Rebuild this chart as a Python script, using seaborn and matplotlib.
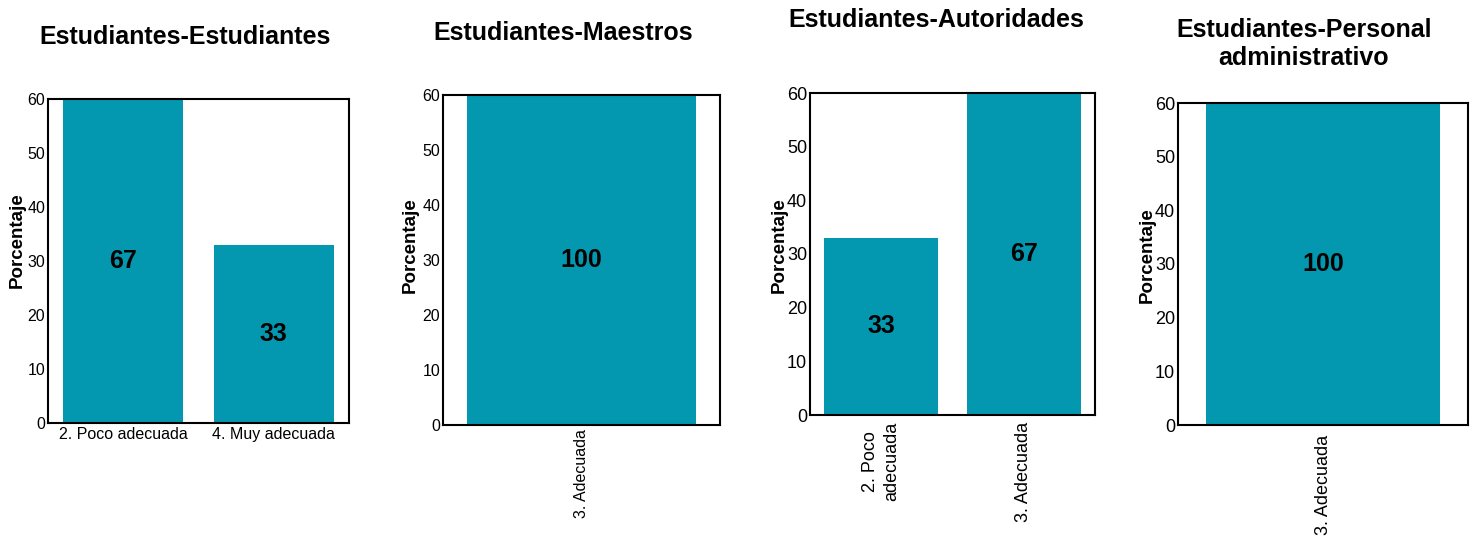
import matplotlib
matplotlib.use("Agg")
import matplotlib.pyplot as plt
import seaborn as sns
import pandas as pd

sns.set_theme(style="white")
plt.rcParams['font.family'] = ['Liberation Sans', 'DejaVu Sans']
plt.rcParams['text.color'] = 'black'
plt.rcParams['axes.labelcolor'] = 'black'

# ---- data ----
titles = ["Estudiantes-Estudiantes", "Estudiantes-Maestros",
          "Estudiantes-Autoridades", "Estudiantes-Personal\nadministrativo"]
cats_1 = ["2. Poco adecuada", "4. Muy adecuada"]
vals_1 = [67, 33]
cats_2 = ["3. Adecuada"]
vals_2 = [100]
cats_3 = ["2. Poco\nadecuada", "3. Adecuada"]
vals_3 = [33, 67]
cats_4 = ["3. Adecuada"]
vals_4 = [100]
y_ticks = [0, 10, 20, 30, 40, 50, 60]
y_label = "Porcentaje"

panels = [(cats_1, vals_1), (cats_2, vals_2), (cats_3, vals_3), (cats_4, vals_4)]

COLOR = "#0498B0"
W, H = 1478, 536
fig = plt.figure(figsize=(W / 100, H / 100), dpi=100)

# axes boxes in pixels: left, top, right, bottom
boxes = [(48, 99, 349, 423), (443, 95, 720, 425), (810, 93, 1095, 415), (1178, 103, 1468, 425)]
title_pos = [(185, 37), (563, 33), (936, 20), (1304, 44)]
label_coords = [(-0.103, 0.565), (-0.119, 0.545), (-0.109, 0.528), (-0.107, 0.528)]
widths = [0.8, 0.83, 0.8, 0.81]
rotations = [0, 90, 90, 90]
tick_sizes = [11.5, 11.5, 13, 13]
xpads = [3, 3, 5, 7]

for i, ((cats, vals), box) in enumerate(zip(panels, boxes)):
    l, t, r, b = box
    ax = fig.add_axes([l / W, (H - b) / H, (r - l) / W, (b - t) / H])
    df = pd.DataFrame({"cat": cats, "val": vals})
    sns.barplot(data=df, x="cat", y="val", color=COLOR, saturation=1,
                width=widths[i], ax=ax, zorder=1)
    for p in ax.patches:
        p.set_edgecolor("none")
    ax.set_ylim(0, 60)
    ax.set_yticks(y_ticks)
    ax.tick_params(axis="both", length=0, labelsize=tick_sizes[i], colors="black")
    ax.tick_params(axis="y", pad=2)
    ax.tick_params(axis="x", pad=xpads[i])
    for lab in ax.get_xticklabels():
        lab.set_rotation(rotations[i])
        if rotations[i] == 90:
            lab.set_ha("center")
            lab.set_va("top")
            lab.set_multialignment("center")
            lab.set_linespacing(1.35)
    ax.set_xlabel("")
    ax.set_ylabel(y_label, fontsize=13.5, fontweight="bold", color="black")
    ax.yaxis.label.set_va("center")
    ax.yaxis.set_label_coords(*label_coords[i])
    for s in ax.spines.values():
        s.set_visible(True)
        s.set_color("black")
        s.set_linewidth(1.5)
    # value labels
    for x, v in enumerate(vals):
        ax.text(x, min(v, 60) / 2, f"{v}", ha="center", va="center",
                fontsize=18, fontweight="bold", color="black")
    tx, ty = title_pos[i]
    fig.text(tx / W, (H - ty) / H, titles[i], ha="center", va="center",
             fontsize=18, fontweight="bold", linespacing=1.25, color="black")

fig.savefig("out.png", dpi=100)
